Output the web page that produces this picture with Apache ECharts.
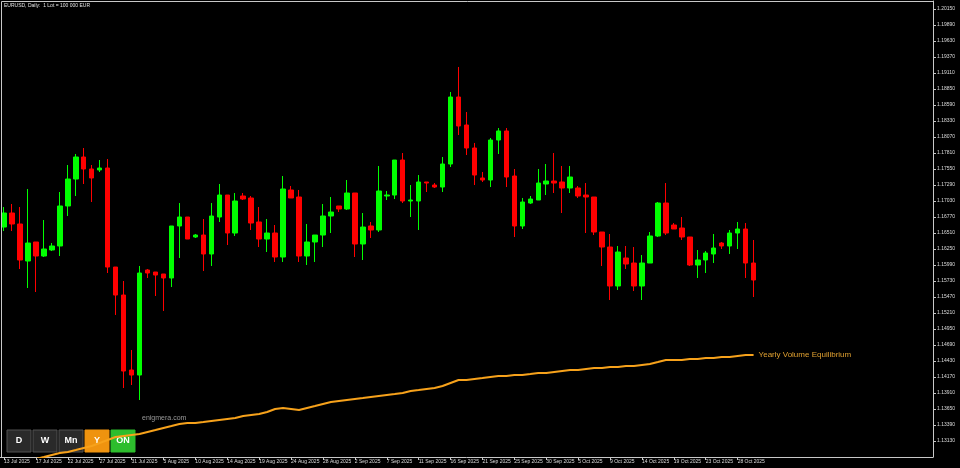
<!DOCTYPE html>
<html><head><meta charset="utf-8">
<script src="https://cdn.jsdelivr.net/npm/echarts@6/dist/echarts.min.js"></script>
<style>html,body{margin:0;padding:0;background:#000;}#c{width:960px;height:468px;}</style>
</head><body><div id="c"></div>
<script>
const dates = [
'13 Jul 2025','14 Jul 2025','15 Jul 2025','16 Jul 2025','17 Jul 2025','18 Jul 2025',
'20 Jul 2025','21 Jul 2025','22 Jul 2025','23 Jul 2025','24 Jul 2025','25 Jul 2025',
'27 Jul 2025','28 Jul 2025','29 Jul 2025','30 Jul 2025','31 Jul 2025','1 Aug 2025',
'3 Aug 2025','4 Aug 2025','5 Aug 2025','6 Aug 2025','7 Aug 2025','8 Aug 2025',
'10 Aug 2025','11 Aug 2025','12 Aug 2025','13 Aug 2025','14 Aug 2025','15 Aug 2025',
'17 Aug 2025','18 Aug 2025','19 Aug 2025','20 Aug 2025','21 Aug 2025','22 Aug 2025',
'24 Aug 2025','25 Aug 2025','26 Aug 2025','27 Aug 2025','28 Aug 2025','29 Aug 2025',
'31 Aug 2025','1 Sep 2025','2 Sep 2025','3 Sep 2025','4 Sep 2025','5 Sep 2025',
'7 Sep 2025','8 Sep 2025','9 Sep 2025','10 Sep 2025','11 Sep 2025','12 Sep 2025',
'14 Sep 2025','15 Sep 2025','16 Sep 2025','17 Sep 2025','18 Sep 2025','19 Sep 2025',
'21 Sep 2025','22 Sep 2025','23 Sep 2025','24 Sep 2025','25 Sep 2025','26 Sep 2025',
'28 Sep 2025','29 Sep 2025','30 Sep 2025','1 Oct 2025','2 Oct 2025','3 Oct 2025',
'5 Oct 2025','6 Oct 2025','7 Oct 2025','8 Oct 2025','9 Oct 2025','10 Oct 2025',
'12 Oct 2025','13 Oct 2025','14 Oct 2025','15 Oct 2025','16 Oct 2025','17 Oct 2025',
'19 Oct 2025','20 Oct 2025','21 Oct 2025','22 Oct 2025','23 Oct 2025','24 Oct 2025',
'26 Oct 2025','27 Oct 2025','28 Oct 2025','29 Oct 2025','30 Oct 2025'
];
const openP = [
1.16607,1.16835,1.16656,1.16055,1.16364,1.16136,1.16234,1.16299,1.16949,1.17387,
1.17745,1.17550,1.17534,1.17566,1.15957,1.15502,1.14284,1.14202,1.15909,1.15876,
1.15844,1.15779,1.16624,1.16770,1.16445,1.16477,1.16169,1.16770,1.17127,1.16510,
1.17111,1.17079,1.16689,1.16412,1.16510,1.16120,1.17209,1.17095,1.16136,1.16364,
1.16477,1.16786,1.16949,1.16900,1.17160,1.16331,1.16624,1.16559,1.17111,1.17127,
1.17696,1.17030,1.17030,1.17339,1.17290,1.17257,1.17631,1.18720,1.18265,1.17891,
1.17404,1.17371,1.18021,1.18168,1.17436,1.16624,1.16997,1.17046,1.17306,1.17355,
1.17339,1.17241,1.17241,1.17127,1.17095,1.16526,1.16282,1.15649,1.16104,1.16022,
1.15649,1.16022,1.16461,1.16997,1.16640,1.16591,1.16445,1.15990,1.16071,1.16169,
1.16347,1.16299,1.16510,1.16575,1.16022
];
const closeP = [
1.16835,1.16656,1.16071,1.16347,1.16136,1.16250,1.16299,1.16949,1.17387,1.17745,
1.17550,1.17404,1.17566,1.15957,1.15502,1.14267,1.14202,1.15860,1.15860,1.15827,
1.15779,1.16624,1.16770,1.16412,1.16477,1.16169,1.16786,1.17127,1.16510,1.17030,
1.17062,1.16672,1.16412,1.16510,1.16120,1.17225,1.17079,1.16136,1.16364,1.16477,
1.16786,1.16851,1.16900,1.17160,1.16331,1.16607,1.16559,1.17192,1.17127,1.17696,
1.17030,1.17046,1.17339,1.17322,1.17257,1.17631,1.18720,1.18249,1.17891,1.17452,
1.17371,1.18021,1.18168,1.17420,1.16624,1.17014,1.17062,1.17322,1.17355,1.17322,
1.17241,1.17420,1.17111,1.17095,1.16526,1.16282,1.15649,1.16201,1.16006,1.15649,
1.16022,1.16461,1.16997,1.16510,1.16575,1.16445,1.15990,1.16071,1.16185,1.16266,
1.16299,1.16510,1.16575,1.16022,1.15746
];
const lowP = [
1.16542,1.16542,1.15925,1.15616,1.15551,1.16120,1.16217,1.16136,1.16786,1.17111,
1.17306,1.17014,1.17501,1.15860,1.15178,1.13991,1.14040,1.13796,1.15779,1.15486,
1.15243,1.15632,1.16104,1.16412,1.16429,1.15892,1.15974,1.16689,1.16315,1.16461,
1.17046,1.16559,1.16282,1.16201,1.16039,1.16039,1.17079,1.16039,1.15990,1.16039,
1.16282,1.16510,1.16851,1.16884,1.16120,1.16071,1.16429,1.16526,1.17046,1.17062,
1.16997,1.16770,1.16559,1.17176,1.17241,1.17176,1.17582,1.18102,1.17777,1.17290,
1.17339,1.17257,1.17794,1.17257,1.16445,1.16575,1.16981,1.17046,1.17127,1.17160,
1.16835,1.17160,1.17079,1.16510,1.16477,1.15974,1.15421,1.15584,1.15925,1.15567,
1.15421,1.16022,1.16445,1.16477,1.16575,1.16396,1.15974,1.15779,1.15860,1.16022,
1.16250,1.16169,1.16250,1.15779,1.15470
];
const highP = [
1.16932,1.16981,1.16932,1.17225,1.16364,1.16721,1.16347,1.17176,1.17615,1.17794,
1.17891,1.17615,1.17696,1.17712,1.15957,1.15730,1.14609,1.15974,1.15925,1.15876,
1.15844,1.16624,1.16997,1.16770,1.16494,1.16737,1.16997,1.17306,1.17127,1.17160,
1.17160,1.17111,1.16932,1.16737,1.16640,1.17436,1.17274,1.17209,1.16656,1.16477,
1.16981,1.17095,1.16949,1.17371,1.17160,1.16835,1.16689,1.17599,1.17192,1.17696,
1.17810,1.17290,1.17452,1.17339,1.17322,1.17745,1.18801,1.19208,1.18476,1.17973,
1.17501,1.18054,1.18216,1.18216,1.17550,1.17079,1.17111,1.17550,1.17631,1.17810,
1.17599,1.17599,1.17274,1.17322,1.17095,1.16526,1.16494,1.16299,1.16299,1.16282,
1.16152,1.16526,1.17014,1.17322,1.16672,1.16770,1.16445,1.16234,1.16217,1.16494,
1.16364,1.16559,1.16689,1.16672,1.16396
];
const yearlyVE = [
1.12723,1.12756,1.12772,1.12804,1.12837,1.12869,1.12902,1.12934,1.12951,1.12983,
1.13016,1.13048,1.13097,1.13146,1.13195,1.13211,1.13227,1.13243,1.13276,1.13308,
1.13341,1.13373,1.13406,1.13422,1.13422,1.13438,1.13455,1.13471,1.13487,1.13503,
1.13536,1.13552,1.13568,1.13601,1.13650,1.13666,1.13650,1.13633,1.13666,1.13698,
1.13731,1.13763,1.13780,1.13796,1.13812,1.13828,1.13845,1.13861,1.13877,1.13893,
1.13910,1.13942,1.13958,1.13975,1.13991,1.14023,1.14072,1.14121,1.14121,1.14137,
1.14153,1.14170,1.14186,1.14186,1.14202,1.14202,1.14218,1.14235,1.14235,1.14251,
1.14267,1.14283,1.14283,1.14300,1.14316,1.14316,1.14332,1.14332,1.14348,1.14348,
1.14365,1.14381,1.14413,1.14446,1.14446,1.14446,1.14462,1.14462,1.14478,1.14478,
1.14495,1.14495,1.14511,1.14527,1.14527
];
const FUTURE_SLOTS = 22;
const yTickMin = 1.1287, yTickStep = 0.0026, yMax = 1.2028;

const cats = dates.slice();
for (let i = 0; i < FUTURE_SLOTS; i++) cats.push('f' + i);
const candles = dates.map((d, i) => [openP[i], closeP[i], lowP[i], highP[i]]);

const FONT = 'Liberation Sans';
const chart = echarts.init(document.getElementById('c'));
const showLbl = (idx) => idx % 4 === 0 && idx < dates.length;

function button(x, label, fill, stroke) {
  return {
    type: 'group', x: x, y: 430, z: 100,
    children: [
      { type: 'rect', shape: { x: 0, y: 0, width: 24, height: 22 }, style: { fill: fill, stroke: stroke, lineWidth: 1 } },
      { type: 'text', x: 12, y: 11, style: { text: label, fill: '#ffffff', font: 'bold 9px "' + FONT + '"', textAlign: 'center', textVerticalAlign: 'middle' } }
    ]
  };
}

chart.setOption({
  backgroundColor: '#000000',
  animation: false,
  grid: { left: -3, right: 27, top: 1, bottom: 11, containLabel: false },
  xAxis: {
    type: 'category', data: cats, boundaryGap: true,
    axisLine: { show: true, lineStyle: { color: '#c8c8c8', width: 1 } },
    axisTick: { show: true, alignWithLabel: true, length: 3, interval: (i) => showLbl(i), lineStyle: { color: '#c8c8c8' } },
    axisLabel: {
      show: true, interval: (i) => showLbl(i), color: '#dcdcdc', fontSize: 5, fontFamily: FONT,
      align: 'left', margin: 2,
      formatter: (v, i) => (i < dates.length ? v : '')
    },
    splitLine: { show: false }
  },
  yAxis: {
    type: 'value', position: 'right', scale: true,
    min: yTickMin, max: yMax, interval: yTickStep,
    axisLine: { show: true, lineStyle: { color: '#c8c8c8', width: 1 } },
    axisTick: { show: true, length: 3, lineStyle: { color: '#c8c8c8' } },
    axisLabel: { color: '#dcdcdc', fontSize: 5, fontFamily: FONT, margin: 4, showMinLabel: false, showMaxLabel: false,
      formatter: (v) => v.toFixed(5) },
    splitLine: { show: false }
  },
  series: [
    {
      type: 'candlestick', data: candles, barWidth: 5,
      itemStyle: { color: '#00ff00', color0: '#ff0000', borderColor: '#00ff00', borderColor0: '#ff0000', borderWidth: 1 }
    },
    {
      type: 'line', data: yearlyVE, showSymbol: false, symbol: 'none', clip: true,
      lineStyle: { color: '#f7a21b', width: 2 },
      endLabel: { show: true, formatter: 'Yearly Volume Equilibrium', color: '#e0a030', fontSize: 8, fontFamily: FONT, distance: 5 },
      z: 5
    }
  ],
  graphic: [
    { type: 'line', shape: { x1: 1.5, y1: 1.5, x2: 933.5, y2: 1.5 }, style: { stroke: '#c8c8c8', lineWidth: 1 }, z: 50 },
    { type: 'line', shape: { x1: 1.5, y1: 1.5, x2: 1.5, y2: 457.5 }, style: { stroke: '#c8c8c8', lineWidth: 1 }, z: 50 },
    { type: 'text', x: 4, y: 3, z: 50, style: { text: 'EURUSD, Daily:  1 Lot = 100 000 EUR', fill: '#e0e0e0', font: '5px "' + FONT + '"' } },
    { type: 'text', x: 142, y: 415, z: 50, style: { text: 'enigmera.com', fill: '#9a9a9a', font: '7px "' + FONT + '"' } },
    button(7, 'D', '#2a2a2a', '#505050'),
    button(33, 'W', '#2a2a2a', '#505050'),
    button(59, 'Mn', '#2a2a2a', '#505050'),
    button(85, 'Y', '#ef930f', '#ef930f'),
    button(111, 'ON', '#2dbd2d', '#2dbd2d')
  ]
});
</script>
</body></html>
